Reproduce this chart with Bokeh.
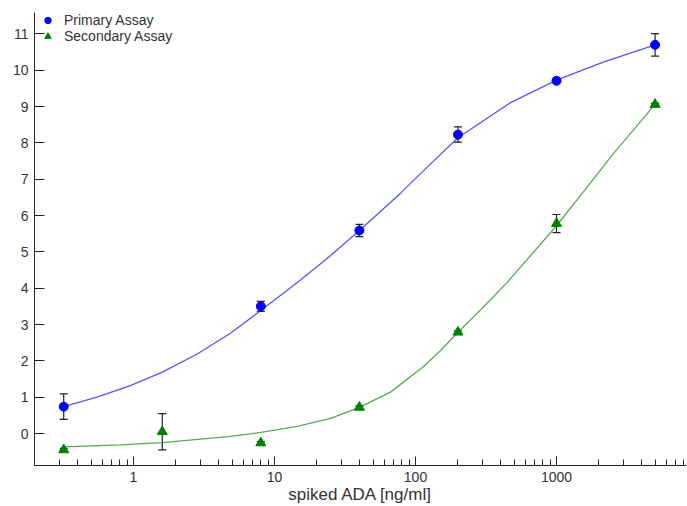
from bokeh.plotting import figure
from bokeh.models import (ColumnDataSource, Whisker, TeeHead, FixedTicker, Legend,
                          LegendItem, Range1d, BasicTickFormatter)
from bokeh.embed import file_html
from bokeh.resources import INLINE

# ---- data ----
primary_x = [0.32, 8, 40, 200, 1000, 5000]
primary_y = [0.74, 3.50, 5.59, 8.23, 9.71, 10.70]
primary_err = [0.35, 0.14, 0.17, 0.21, 0.03, 0.31]

secondary_x = [0.32, 1.6, 8, 40, 200, 1000, 5000]
secondary_y = [-0.45, 0.05, -0.26, 0.72, 2.79, 5.78, 9.06]
secondary_err = [0.04, 0.50, 0.04, 0.04, 0.04, 0.25, 0.03]

# fitted curves
primary_fit_x = [0.32, 0.55, 0.95, 1.6, 2.83, 4.87, 7.95, 14.5, 20, 25, 40, 78,
                 120, 200, 472, 1000, 2167, 5000]
primary_fit_y = [0.74, 1.0, 1.32, 1.69, 2.19, 2.76, 3.38, 4.16, 4.59, 4.90, 5.59,
                 6.61, 7.32, 8.14, 9.11, 9.73, 10.23, 10.70]

secondary_fit_x = [0.32, 0.8, 1.6, 4.87, 8, 14.5, 25, 40, 66.5, 114.6, 150, 200,
                   289, 447, 1000, 1600, 2548, 5000]
secondary_fit_y = [-0.37, -0.31, -0.25, -0.08, 0.03, 0.20, 0.42, 0.72, 1.14, 1.85,
                   2.28, 2.79, 3.40, 4.16, 5.72, 6.72, 7.72, 9.06]

x_major_ticks = [1, 10, 100, 1000]
x_minor_ticks = [m * 10 ** e for e in range(-1, 4) for m in range(2, 10)]
y_ticks = list(range(0, 12))

series_labels = ["Primary Assay", "Secondary Assay"]
x_title = "spiked ADA [ng/ml]"

FONT = "Liberation Sans"
TXT = "#333333"
AX = "#222222"

p = figure(width=687, height=506, x_axis_type="log",
           x_range=Range1d(0.1986, 8350), y_range=Range1d(-0.88, 11.59),
           output_backend="svg", toolbar_location=None,
           min_border_left=34, min_border_top=12, min_border_right=1,
           min_border_bottom=41)
p.xgrid.visible = False
p.ygrid.visible = False
p.outline_line_color = None
p.background_fill_color = "white"
p.border_fill_color = "white"

# x axis
xa = p.xaxis[0]
xa.ticker = FixedTicker(ticks=x_major_ticks, minor_ticks=x_minor_ticks)
xa.formatter = BasicTickFormatter(use_scientific=False)
xa.major_tick_in = 9
xa.major_tick_out = 0
xa.minor_tick_in = 6
xa.minor_tick_out = 0
xa.axis_line_color = AX
xa.major_tick_line_color = AX
xa.minor_tick_line_color = AX
xa.major_label_text_font = FONT
xa.major_label_text_font_size = "14px"
xa.major_label_text_color = TXT
xa.major_label_standoff = 6
xa.axis_label = x_title
xa.axis_label_text_font = FONT
xa.axis_label_text_font_size = "17px"
xa.axis_label_text_font_style = "normal"
xa.axis_label_text_color = TXT
xa.axis_label_standoff = 0

# y axis
ya = p.yaxis[0]
ya.ticker = FixedTicker(ticks=y_ticks)
ya.major_tick_in = 10
ya.major_tick_out = 0
ya.minor_tick_line_color = None
ya.axis_line_color = AX
ya.major_tick_line_color = AX
ya.major_label_text_font = FONT
ya.major_label_text_font_size = "14px"
ya.major_label_text_color = TXT
ya.major_label_standoff = 6

# curves
p.line(primary_fit_x, primary_fit_y, line_color="#2a2aff", line_width=1.3, line_alpha=0.8)
p.line(secondary_fit_x, secondary_fit_y, line_color="#1f8f1f", line_width=1.3, line_alpha=0.75)

# error bars
psrc = ColumnDataSource(dict(
    x=primary_x, y=primary_y,
    upper=[v + e for v, e in zip(primary_y, primary_err)],
    lower=[v - e for v, e in zip(primary_y, primary_err)]))
ssrc = ColumnDataSource(dict(
    x=secondary_x, y=secondary_y,
    upper=[v + e for v, e in zip(secondary_y, secondary_err)],
    lower=[v - e for v, e in zip(secondary_y, secondary_err)]))

for src in (psrc, ssrc):
    w = Whisker(source=src, base="x", upper="upper", lower="lower",
                line_color=AX, line_width=1.2,
                upper_head=TeeHead(size=8, line_color=AX, line_width=1.2),
                lower_head=TeeHead(size=8, line_color=AX, line_width=1.2))
    p.add_layout(w)

r1 = p.scatter("x", "y", source=psrc, marker="circle", size=9,
               fill_color="#0000ff", line_color="#0000ff")
r2 = p.scatter("x", "y", source=ssrc, marker="triangle", size=10,
               fill_color="#008000", line_color="#008000")

legend = Legend(items=[LegendItem(label=series_labels[0], renderers=[r1]),
                       LegendItem(label=series_labels[1], renderers=[r2])],
                location="top_left")
legend.margin = 0
legend.padding = 0
legend.spacing = 0
legend.glyph_width = 27
legend.glyph_height = 16
legend.label_height = 16
legend.label_standoff = 3
legend.label_text_font = FONT
legend.label_text_font_size = "14px"
legend.label_text_color = TXT
legend.background_fill_alpha = 0
legend.border_line_color = None
p.add_layout(legend)

open("out.html", "w").write(file_html(p, INLINE))
